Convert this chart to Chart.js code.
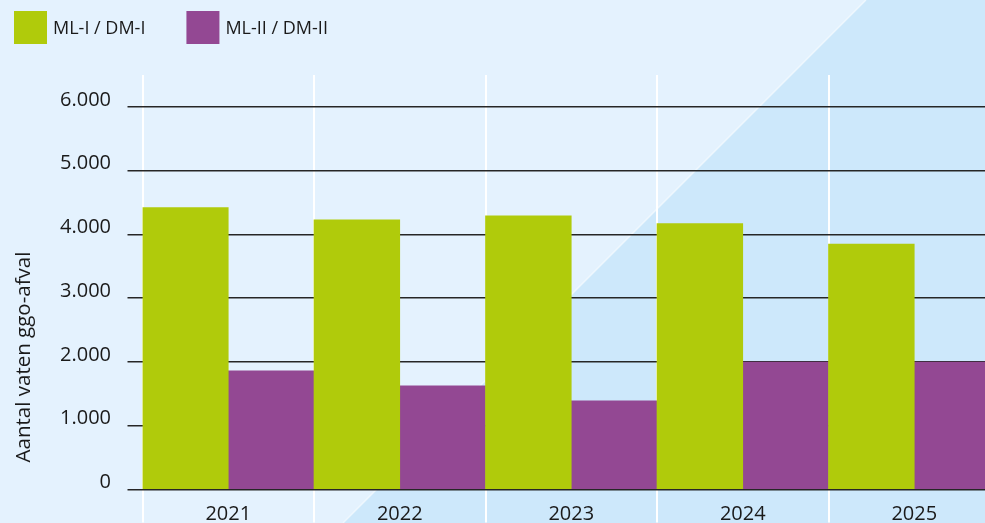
<!DOCTYPE html>
<html><head><meta charset="utf-8">
<script src="https://cdn.jsdelivr.net/npm/chart.js@4"></script>
<style>html,body{margin:0;padding:0;overflow:hidden;background:#e4f2fe}#wrap{width:1000px;height:523px}</style>
</head><body><div id="wrap"><canvas id="c" width="1000" height="523"></canvas></div>
<script>
const categories = ['2021', '2022', '2023', '2024', '2025'];
const seriesNames = ['ML-I / DM-I', 'ML-II / DM-II'];
const mlIValues = [4420, 4230, 4290, 4170, 3850];
const mlIIValues = [1860, 1625, 1390, 2000, 2000];
const yTickValues = [0, 1000, 2000, 3000, 4000, 5000, 6000];
const yTickLabels = ['0', '1.000', '2.000', '3.000', '4.000', '5.000', '6.000'];
const yTitle = 'Aantal vaten ggo-afval';

const GREEN = '#b0cb0b', PURPLE = '#934893', TEXT = '#1a1a1a';
const FONT = "'Open Sans', 'Noto Sans', sans-serif";

const bgPlugin = {
  id: 'bg',
  beforeDraw(chart) {
    const {ctx, width: w, height: h} = chart;
    ctx.save();
    ctx.fillStyle = '#e4f2fe';
    ctx.fillRect(0, 0, w, h);
    const k = 866;
    ctx.beginPath();
    ctx.moveTo(k, 0); ctx.lineTo(w, 0); ctx.lineTo(w, h); ctx.lineTo(k - h, h); ctx.closePath();
    ctx.fillStyle = '#cde8fb';
    ctx.fill();
    ctx.beginPath();
    ctx.moveTo(k, 0); ctx.lineTo(k - h, h);
    ctx.strokeStyle = 'rgba(255,255,255,0.55)';
    ctx.lineWidth = 1.5;
    ctx.stroke();
    ctx.restore();
  }
};

const decorPlugin = {
  id: 'decor',
  afterDraw(chart) {
    const {ctx} = chart;
    ctx.save();
    // legend
    ctx.font = '18px ' + FONT;
    ctx.textBaseline = 'middle';
    ctx.textAlign = 'left';
    let x = 14;
    const box = 33, y = 11;
    chart.data.datasets.forEach((ds) => {
      ctx.fillStyle = ds.backgroundColor;
      ctx.fillRect(x, y, box, box);
      ctx.fillStyle = TEXT;
      const tx = x + box + 6;
      ctx.fillText(ds.label, tx, y + box / 2 + 1);
      x = tx + ctx.measureText(ds.label).width + 41;
    });
    // y axis title
    ctx.font = '20.5px ' + FONT;
    ctx.translate(24, 357);
    ctx.rotate(-Math.PI / 2);
    ctx.textAlign = 'center';
    ctx.fillText(yTitle, 0, 0);
    ctx.restore();
  }
};

new Chart(document.getElementById('c'), {
  type: 'bar',
  data: {
    labels: categories,
    datasets: [
      {label: seriesNames[0], data: mlIValues, backgroundColor: GREEN, borderWidth: 0, categoryPercentage: 1, barPercentage: 1},
      {label: seriesNames[1], data: mlIIValues, backgroundColor: PURPLE, borderWidth: 0, categoryPercentage: 1, barPercentage: 1}
    ]
  },
  options: {
    responsive: false,
    animation: false,
    layout: {padding: {top: 75, left: 0, right: 0, bottom: 0}},
    plugins: {legend: {display: false}, tooltip: {enabled: false}},
    scales: {
      x: {
        z: 1,
        grid: {offset: true, color: '#ffffff', lineWidth: 2, tickLength: 33, tickColor: '#ffffff', drawTicks: true},
        border: {display: false},
        ticks: {font: {family: FONT, size: 20}, color: TEXT, padding: -20, maxRotation: 0},
        afterFit(s) { s.height = 33.5; }
      },
      y: {
        z: 2,
        min: 0, max: 6500,
        afterBuildTicks(s) { s.ticks = yTickValues.map(v => ({value: v})); },
        grid: {color: '#262626', lineWidth: 1.5, tickLength: 15, tickColor: '#262626', drawTicks: true},
        border: {display: false},
        ticks: {font: {family: FONT, size: 20}, color: TEXT, padding: 16.5, labelOffset: -7,
          callback(v, i) { return yTickLabels[i]; }},
        afterFit(s) { s.width = 142.5; }
      }
    }
  },
  plugins: [bgPlugin, decorPlugin]
});
</script></body></html>
